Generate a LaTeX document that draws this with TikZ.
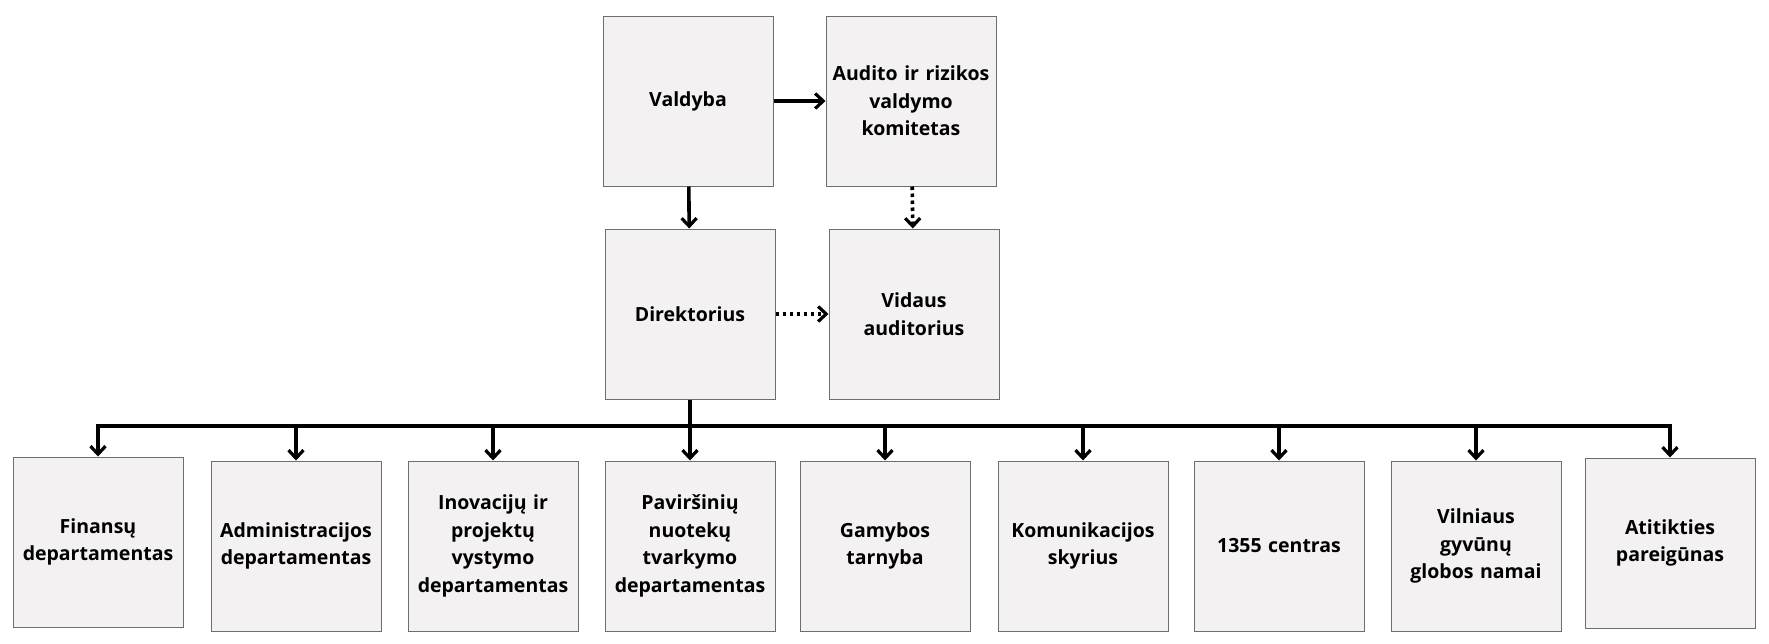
\documentclass[tikz,border=0pt]{standalone}
\usepackage{fontspec}
\setmainfont{Open Sans}
\usetikzlibrary{arrows.meta}
\definecolor{boxfill}{HTML}{F3F1F2}
\definecolor{boxline}{HTML}{6E6E6E}

\begin{document}
\begin{tikzpicture}[x=1pt, y=-1pt,
    box/.style={draw=boxline, line width=1pt, fill=boxfill, minimum width=170pt, minimum height=170pt,
        text width=166pt, align=center, inner sep=0pt, font=\fontsize{19.5}{27.5}\selectfont\bfseries},
    link/.style={line width=3.6pt, -{Straight Barb[length=8pt, width=15pt, line width=3.2pt]}},
    dotlink/.style={link, dash pattern=on 3.5pt off 3.5pt},
    bus/.style={line width=3.6pt}]
            \useasboundingbox (0,0) rectangle (1769,643);

            % Define the top boxes
            \node[box] (V) at (688,101) {Valdyba};
            \node[box] (A) at (911,101) {Audito ir rizikos\\valdymo\\komitetas};
            \node[box] (D) at (690,314) {Direktorius};
            \node[box] (I) at (914,314) {Vidaus\\auditorius};

            % Define the bottom boxes
            \node[box] (B_1) at (98,542) {Finansų\\departamentas};
            \node[box] (B_2) at (296,546) {Administracijos\\departamentas};
            \node[box] (B_3) at (493,546) {Inovacijų ir\\projektų\\vystymo\\departamentas};
            \node[box] (B_4) at (690,546) {Paviršinių\\nuotekų\\tvarkymo\\departamentas};
            \node[box] (B_5) at (885,546) {Gamybos\\tarnyba};
            \node[box] (B_6) at (1083,546) {Komunikacijos\\skyrius};
            \node[box] (B_7) at (1279,546) {1355 centras};
            \node[box] (B_8) at (1476,546) {Vilniaus\\gyvūnų\\globos namai};
            \node[box] (B_9) at (1670,543) {Atitikties\\pareigūnas};

            % Bus points
            \coordinate (b_0) at (690,426);
            \coordinate (b_1) at (98,426);
            \coordinate (b_2) at (296,426);
            \coordinate (b_3) at (493,426);
            \coordinate (b_4) at (690,426);
            \coordinate (b_5) at (885,426);
            \coordinate (b_6) at (1083,426);
            \coordinate (b_7) at (1279,426);
            \coordinate (b_8) at (1476,426);
            \coordinate (b_9) at (1670,426);

            % Draw edges
            \draw[link] (V) -- (A);
            \draw[link] (V) -- (D);
            \draw[dotlink] (A) -- (I);
            \draw[dotlink] (D) -- (I);
            \draw[bus] (D.south) -- (b_0);
            \draw[bus, line cap=rect] (b_1) -- (b_9);
            \draw[link] (b_1) -- (B_1);
            \draw[link] (b_2) -- (B_2);
            \draw[link] (b_3) -- (B_3);
            \draw[link] (b_4) -- (B_4);
            \draw[link] (b_5) -- (B_5);
            \draw[link] (b_6) -- (B_6);
            \draw[link] (b_7) -- (B_7);
            \draw[link] (b_8) -- (B_8);
            \draw[link] (b_9) -- (B_9);
        \end{tikzpicture}
\end{document}
